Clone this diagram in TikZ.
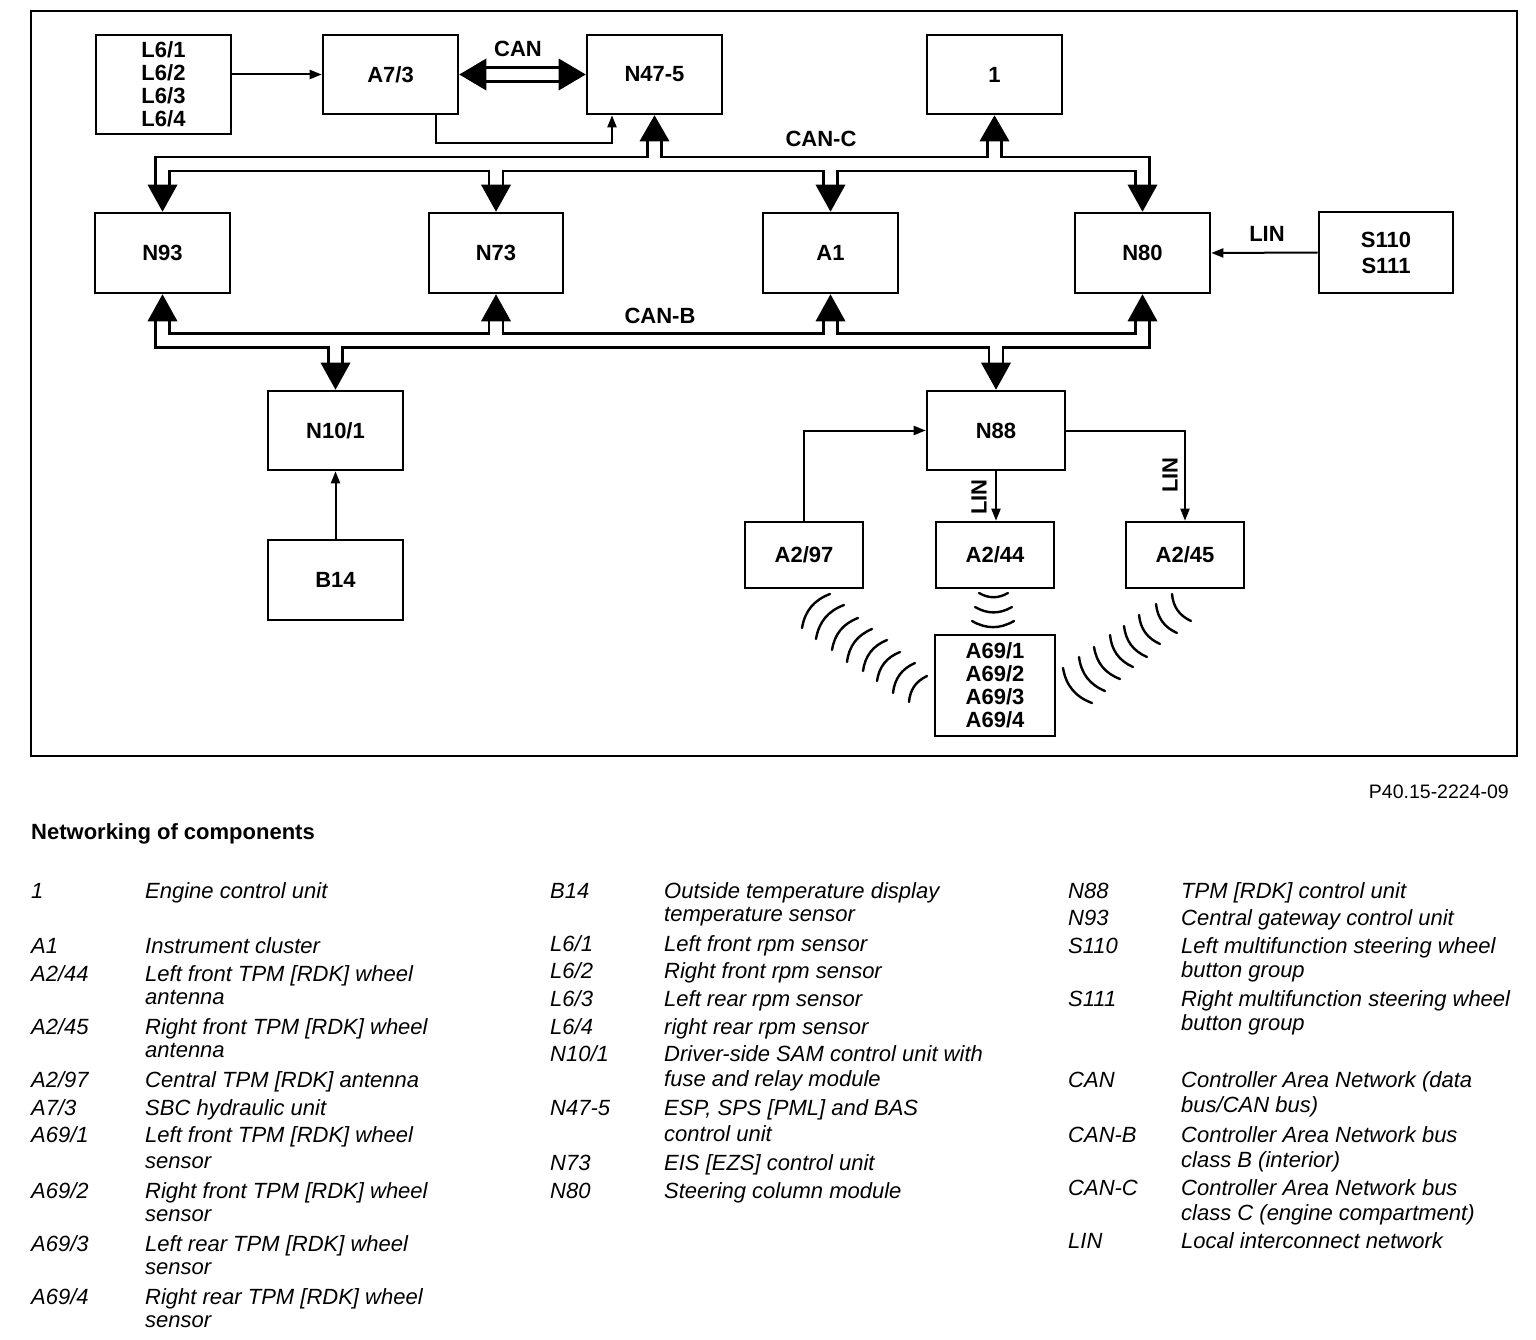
\documentclass[tikz,border=0pt]{standalone}
\usepackage{fontspec}
\setmainfont{Liberation Sans}
\usetikzlibrary{calc,arrows.meta}
\begin{document}
\begin{tikzpicture}[x=1pt,y=-1pt,
  box/.style={draw, line width=2.6pt, minimum width=135pt, minimum height=80pt, inner sep=0pt,
    font=\fontsize{22}{23}\selectfont\bfseries, align=center},
  smallbox/.style={box, minimum width=118pt, minimum height=66pt},
  lbl/.style={font=\fontsize{22}{23}\selectfont\bfseries, inner sep=0pt},
  conn/.style={line width=2pt, -{Triangle[length=12pt,width=9pt]}},
  lgd/.style={anchor=base west, inner sep=0pt, font=\fontsize{22}{25}\selectfont\itshape},
  wave/.style={line width=2.4pt, line cap=round},
]
\useasboundingbox (0,0) rectangle (1536,1340);
\fill[white] (0,0) rectangle (1536,1340);
\draw[line width=1.5pt] (31,11) rectangle (1517,756);

% ---- boxes ----
\node[box, minimum height=99pt] (L6) at (163.5,84.5) {L6/1\\L6/2\\L6/3\\L6/4};
\node[box, minimum height=79pt] (A73) at (390.5,74.5) {A7/3};
\node[box, minimum height=79pt] (N47) at (654.5,74.5) {N47-5};
\node[box, minimum height=79pt] (ECU) at (994.5,74.5) {1};
\node[box] (N93) at (162.5,253) {N93};
\node[box, minimum width=134pt] (N73) at (496,253) {N73};
\node[box] (A1) at (830.5,253) {A1};
\node[box] (N80) at (1142.5,253) {N80};
\node[box, minimum width=134pt, minimum height=81pt] (S110) at (1386,252.5) {S110\\[3pt]S111};
\node[box, minimum height=79pt] (N10) at (335.5,430.5) {N10/1};
\node[box, minimum width=138pt, minimum height=79pt] (N88) at (996,430.5) {N88};
\node[box] (B14) at (335.5,580) {B14};
\node[smallbox] (A297) at (804,555) {A2/97};
\node[smallbox] (A244) at (995,555) {A2/44};
\node[smallbox] (A245) at (1185,555) {A2/45};
\node[box, minimum width=120pt, minimum height=101pt] (A69) at (995,685.5) {A69/1\\A69/2\\A69/3\\A69/4};

% ---- bus pipes ----
\coordinate (busC) at (0,164);
\coordinate (busB) at (0,340.5);
\foreach \w/\c in {16.5/black,11.5/white}{
  \draw[line width=\w pt, \c, line join=miter]
    ($(N93.north)+(0,-27)$) -- (N93.north |- busC) -- (N80.north |- busC) -- ($(N80.north)+(0,-27)$)
    (N73.north |- busC) -- ($(N73.north)+(0,-27)$)
    (A1.north |- busC) -- ($(A1.north)+(0,-27)$)
    (N47.south |- busC) -- ($(N47.south)+(0,26)$)
    (ECU.south |- busC) -- ($(ECU.south)+(0,26)$)
    ($(N93.south)+(0,27)$) -- (N93.south |- busB) -- (N80.south |- busB) -- ($(N80.south)+(0,27)$)
    (N73.south |- busB) -- ($(N73.south)+(0,27)$)
    (A1.south |- busB) -- ($(A1.south)+(0,27)$)
    (N10.north |- busB) -- ($(N10.north)+(0,-27)$)
    (N88.north |- busB) -- ($(N88.north)+(0,-27)$)
    ($(A73.east)+(26,0)$) -- ($(N47.west)+(-26,0)$);
}
% arrowheads of the buses
\foreach \n in {N93,N73,A1,N80}{
  \fill (\n.north) -- ++(-15,-27) -- ++(30,0) -- cycle;
  \fill (\n.south) -- ++(-15,27) -- ++(30,0) -- cycle;
}
\foreach \n in {N47,ECU}{
  \fill (\n.south) -- ++(-15,26) -- ++(30,0) -- cycle;
}
\foreach \n in {N10,N88}{
  \fill (\n.north) -- ++(-15,-27) -- ++(30,0) -- cycle;
}
\fill (A73.east) -- ++(27,-16) -- ++(0,32) -- cycle;
\fill (N47.west) -- ++(-27,-16) -- ++(0,32) -- cycle;

% ---- thin connectors ----
\draw[conn] (L6.east |- A73.west) -- (A73.west);
\draw[conn] ([xshift=45.5pt]A73.south) -- ++(0,28) -| ([xshift=-42.5pt]N47.south);
\draw[conn] (S110.west) -- (N80.east);
\draw[conn] (B14.north) -- (N10.south);
\draw[conn] (A297.north) |- (N88.west);
\draw[conn] (N88.south) -- (N88.south |- A244.north);
\draw[conn] (N88.east) -| (A245.north);

% ---- labels ----
\node[lbl] (canlbl) at (518,49) {CAN};
\node[lbl] (canclbl) at (821,139) {CAN-C};
\node[lbl] (canblbl) at (660,316) {CAN-B};
\node[lbl] (lin1) at (1267,234) {LIN};
\node[lbl, rotate=90] (lin2) at (979,497) {LIN};
\node[lbl, rotate=90] (lin3) at (1170,475) {LIN};

% ---- radio waves ----
\foreach \a/\b in {{802,628}/{830,594},{816,639}/{844,605},{832,650}/{858,618},{847,662}/{872,629},
                   {863,671}/{887,640},{877,681}/{900,652},{893,693}/{915,663},{909,702}/{927,676}}{
  \draw[wave] (\a) to[bend left=30] (\b);
}
\foreach \a/\b in {{1172,594}/{1191,621},{1156,604}/{1177,633},{1139,615}/{1160,644},{1124,626}/{1147,657},
                   {1110,635}/{1133,667},{1094,647}/{1120,679},{1079,657}/{1105,691},{1063,668}/{1092,703}}{
  \draw[wave] (\a) to[bend right=30] (\b);
}
\foreach \a/\b in {{979,593}/{1008,593},{975,607}/{1012,607},{972,621}/{1014,621}}{
  \draw[wave] (\a) to[bend right=30] (\b);
}

% ---- captions ----
\node[anchor=base east, inner sep=0pt, font=\fontsize{19.5}{22}\selectfont] (fig) at (1509,798) {P40.15-2224-09};
\node[anchor=base west, inner sep=0pt, font=\fontsize{22}{25}\selectfont\bfseries] (title) at (31,839) {Networking of components};

% ---- legend column 1 ----
\node[lgd] (k11) at (31,898) {1};      \node[lgd] (d11) at (145,898) {Engine control unit};
\node[lgd] (k12) at (31,953) {A1};     \node[lgd] (d12) at (145,953) {Instrument cluster};
\node[lgd] (k13) at (31,981) {A2/44};  \node[lgd] (d13) at (145,981) {Left front TPM [RDK] wheel};
\node[lgd] (d13b) at (145,1004) {antenna};
\node[lgd] (k14) at (31,1034) {A2/45}; \node[lgd] (d14) at (145,1034) {Right front TPM [RDK] wheel};
\node[lgd] (d14b) at (145,1057) {antenna};
\node[lgd] (k15) at (31,1087) {A2/97}; \node[lgd] (d15) at (145,1087) {Central TPM [RDK] antenna};
\node[lgd] (k16) at (31,1115) {A7/3};  \node[lgd] (d16) at (145,1115) {SBC hydraulic unit};
\node[lgd] (k17) at (31,1142) {A69/1}; \node[lgd] (d17) at (145,1142) {Left front TPM [RDK] wheel};
\node[lgd] (d17b) at (145,1168) {sensor};
\node[lgd] (k18) at (31,1198) {A69/2}; \node[lgd] (d18) at (145,1198) {Right front TPM [RDK] wheel};
\node[lgd] (d18b) at (145,1221) {sensor};
\node[lgd] (k19) at (31,1251) {A69/3}; \node[lgd] (d19) at (145,1251) {Left rear TPM [RDK] wheel};
\node[lgd] (d19b) at (145,1274) {sensor};
\node[lgd] (k110) at (31,1304) {A69/4}; \node[lgd] (d110) at (145,1304) {Right rear TPM [RDK] wheel};
\node[lgd] (d110b) at (145,1327) {sensor};

% ---- legend column 2 ----
\node[lgd] (k21) at (550,898) {B14};   \node[lgd] (d21) at (664,898) {Outside temperature display};
\node[lgd] (d21b) at (664,921) {temperature sensor};
\node[lgd] (k22) at (550,951) {L6/1};  \node[lgd] (d22) at (664,951) {Left front rpm sensor};
\node[lgd] (k23) at (550,978) {L6/2};  \node[lgd] (d23) at (664,978) {Right front rpm sensor};
\node[lgd] (k24) at (550,1006) {L6/3}; \node[lgd] (d24) at (664,1006) {Left rear rpm sensor};
\node[lgd] (k25) at (550,1034) {L6/4}; \node[lgd] (d25) at (664,1034) {right rear rpm sensor};
\node[lgd] (k26) at (550,1061) {N10/1}; \node[lgd] (d26) at (664,1061) {Driver-side SAM control unit with};
\node[lgd] (d26b) at (664,1086) {fuse and relay module};
\node[lgd] (k27) at (550,1115) {N47-5}; \node[lgd] (d27) at (664,1115) {ESP, SPS [PML] and BAS};
\node[lgd] (d27b) at (664,1141) {control unit};
\node[lgd] (k28) at (550,1170) {N73};  \node[lgd] (d28) at (664,1170) {EIS [EZS] control unit};
\node[lgd] (k29) at (550,1198) {N80};  \node[lgd] (d29) at (664,1198) {Steering column module};

% ---- legend column 3 ----
\node[lgd] (k31) at (1068,898) {N88};  \node[lgd] (d31) at (1181,898) {TPM [RDK] control unit};
\node[lgd] (k32) at (1068,925) {N93};  \node[lgd] (d32) at (1181,925) {Central gateway control unit};
\node[lgd] (k33) at (1068,953) {S110}; \node[lgd] (d33) at (1181,953) {Left multifunction steering wheel};
\node[lgd] (d33b) at (1181,977) {button group};
\node[lgd] (k34) at (1068,1006) {S111}; \node[lgd] (d34) at (1181,1006) {Right multifunction steering wheel};
\node[lgd] (d34b) at (1181,1030) {button group};
\node[lgd] (k35) at (1068,1087) {CAN};  \node[lgd] (d35) at (1181,1087) {Controller Area Network (data};
\node[lgd] (d35b) at (1181,1112) {bus/CAN bus)};
\node[lgd] (k36) at (1068,1142) {CAN-B}; \node[lgd] (d36) at (1181,1142) {Controller Area Network bus};
\node[lgd] (d36b) at (1181,1167) {class B (interior)};
\node[lgd] (k37) at (1068,1195) {CAN-C}; \node[lgd] (d37) at (1181,1195) {Controller Area Network bus};
\node[lgd] (d37b) at (1181,1220) {class C (engine compartment)};
\node[lgd] (k38) at (1068,1248) {LIN};  \node[lgd] (d38) at (1181,1248) {Local interconnect network};
\end{tikzpicture}
\end{document}
